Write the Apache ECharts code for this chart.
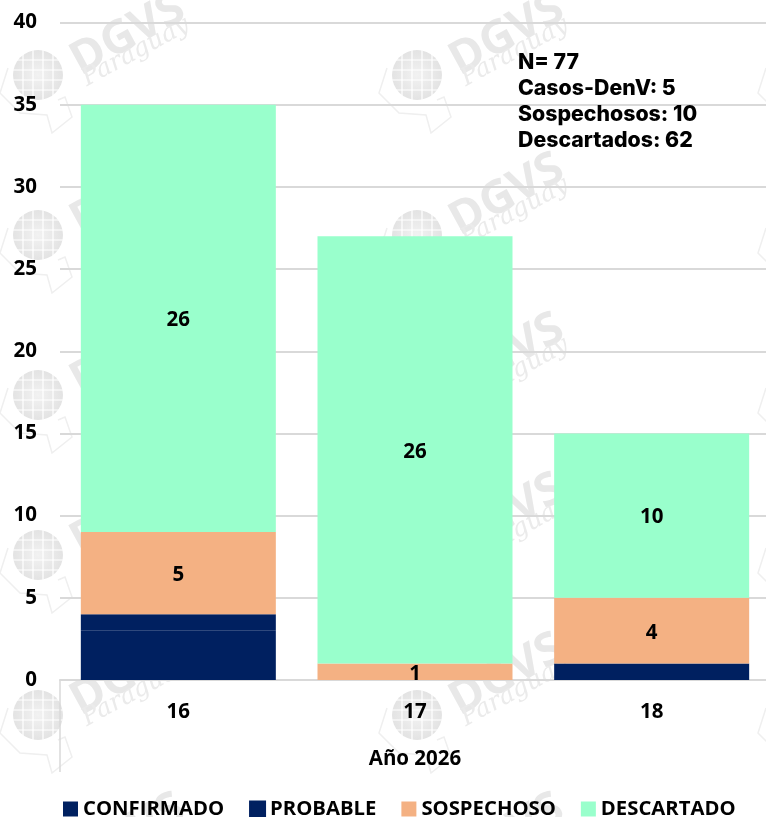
<!DOCTYPE html>
<html><head><meta charset="utf-8">
<style>html,body{margin:0;padding:0;background:#fff;overflow:hidden}#c{width:770px;height:817px}</style>
<script src="https://cdn.jsdelivr.net/npm/echarts@6/dist/echarts.min.js"></script>
</head><body><div id="c"></div>
<script>
const weeks = ['16','17','18'];
const confirmado = [3,null,null];
const probable = [1,null,1];
const sospechoso = [5,1,4];
const descartado = [26,26,10];
const yTicks = {min:0,max:40,interval:5};
const axisTitle = 'Año 2026';
const summaryLines = ['N= 77','Casos-DenV: 5','Sospechosos: 10','Descartados: 62'];
const NAVY='#002060', PEACH='#F4B183', MINT='#99FFCC';
const FONT='"Open Sans"';
const wm=[];
const wmC='#e8e8e8';
function tile(x,y){
  const rot=0.5;
  const kids=[
   {type:'polyline',shape:{points:[[-30,-7],[-38,18],[-18,38],[9,40],[14,58],[34,42],[27,22],[20,25]]},style:{fill:'none',stroke:'#efefef',lineWidth:1.5}},
   {type:'circle',shape:{cx:0,cy:0,r:25},style:{fill:{type:'radial',x:.5,y:.5,r:.6,colorStops:[{offset:0,color:'#f2f2f2'},{offset:1,color:'#e0e0e0'}]}}},
  ];
  [-15,-5,5,15].forEach(d=>{
    kids.push({type:'line',shape:{x1:-26,y1:d,x2:26,y2:d},style:{stroke:'#fff',lineWidth:1.2}});
    kids.push({type:'line',shape:{x1:d,y1:-26,x2:d,y2:26},style:{stroke:'#fff',lineWidth:1.2}});
  });
  kids.push({type:'text',x:90,y:-40,rotation:rot,style:{text:'DGVS',fill:wmC,font:'bold 46px "Open Sans"',align:'center',verticalAlign:'middle'}});
  kids.push({type:'text',x:98,y:-23,rotation:rot,style:{text:'Paraguay',fill:'#ebebeb',font:'italic 25px "DejaVu Serif"',align:'center',verticalAlign:'middle'}});
  wm.push({type:'group',x,y,z:-1,silent:true,children:kids.map(k=>Object.assign(k,{z:-1}))});
}
[38,417,796].forEach(x=>[75,235,395,555,715,875].forEach(y=>tile(x,y)));
const label={show:true,position:'inside',offset:[0,2],color:'#000',fontFamily:FONT,fontWeight:'bold',fontSize:20.5,formatter:p=>p.value||''};
function bar(name,data,color,lab,border){
  return {name,type:'bar',stack:'t',data,barWidth:195,itemStyle:{color,borderColor:color,borderWidth:border},label:lab?label:{show:false}};
}
const chart=echarts.init(document.getElementById('c'),null,{renderer:'canvas'});
chart.setOption({
  animation:false,
  textStyle:{fontFamily:FONT},
  grid:{left:60,top:22.5,right:0,height:657.5,containLabel:false},
  xAxis:{type:'category',data:weeks,name:axisTitle,nameLocation:'middle',nameGap:69,
    nameTextStyle:{color:'#000',fontSize:20.5,fontWeight:'bold',fontFamily:FONT},
    axisLine:{lineStyle:{color:'#d9d9d9',width:2}},axisTick:{show:false},
    axisLabel:{color:'#000',fontSize:20.5,fontWeight:'bold',fontFamily:FONT,margin:22}},
  yAxis:{type:'value',min:yTicks.min,max:yTicks.max,interval:yTicks.interval,
    axisLine:{show:false},axisTick:{show:false},
    splitLine:{lineStyle:{color:'#d9d9d9',width:2}},
    axisLabel:{color:'#000',fontSize:20.5,fontWeight:'bold',fontFamily:FONT,margin:23,padding:[2,0,0,0]}},
  legend:{left:63,top:799,padding:0,itemWidth:15,itemHeight:15,itemGap:25,icon:'rect',
    textStyle:{color:'#000',fontSize:20.3,fontWeight:'bold',fontFamily:FONT,padding:[0,0,3,0]},
    data:['CONFIRMADO','PROBABLE','SOSPECHOSO','DESCARTADO']},
  series:[bar('CONFIRMADO',confirmado,NAVY,false,0),bar('PROBABLE',probable,NAVY,false,2),
          bar('SOSPECHOSO',sospechoso,PEACH,true,0),bar('DESCARTADO',descartado,MINT,true,0)],
  graphic:{elements:wm.concat([
    {type:'line',z:1,silent:true,shape:{x1:60,y1:680,x2:60,y2:772},style:{stroke:'#d9d9d9',lineWidth:1.5}},
    {type:'text',z:10,x:518,y:50,style:{text:summaryLines.join('\n'),fill:'#000',font:'800 21.3px Inter',lineHeight:26}}
  ])}
});
</script></body></html>
